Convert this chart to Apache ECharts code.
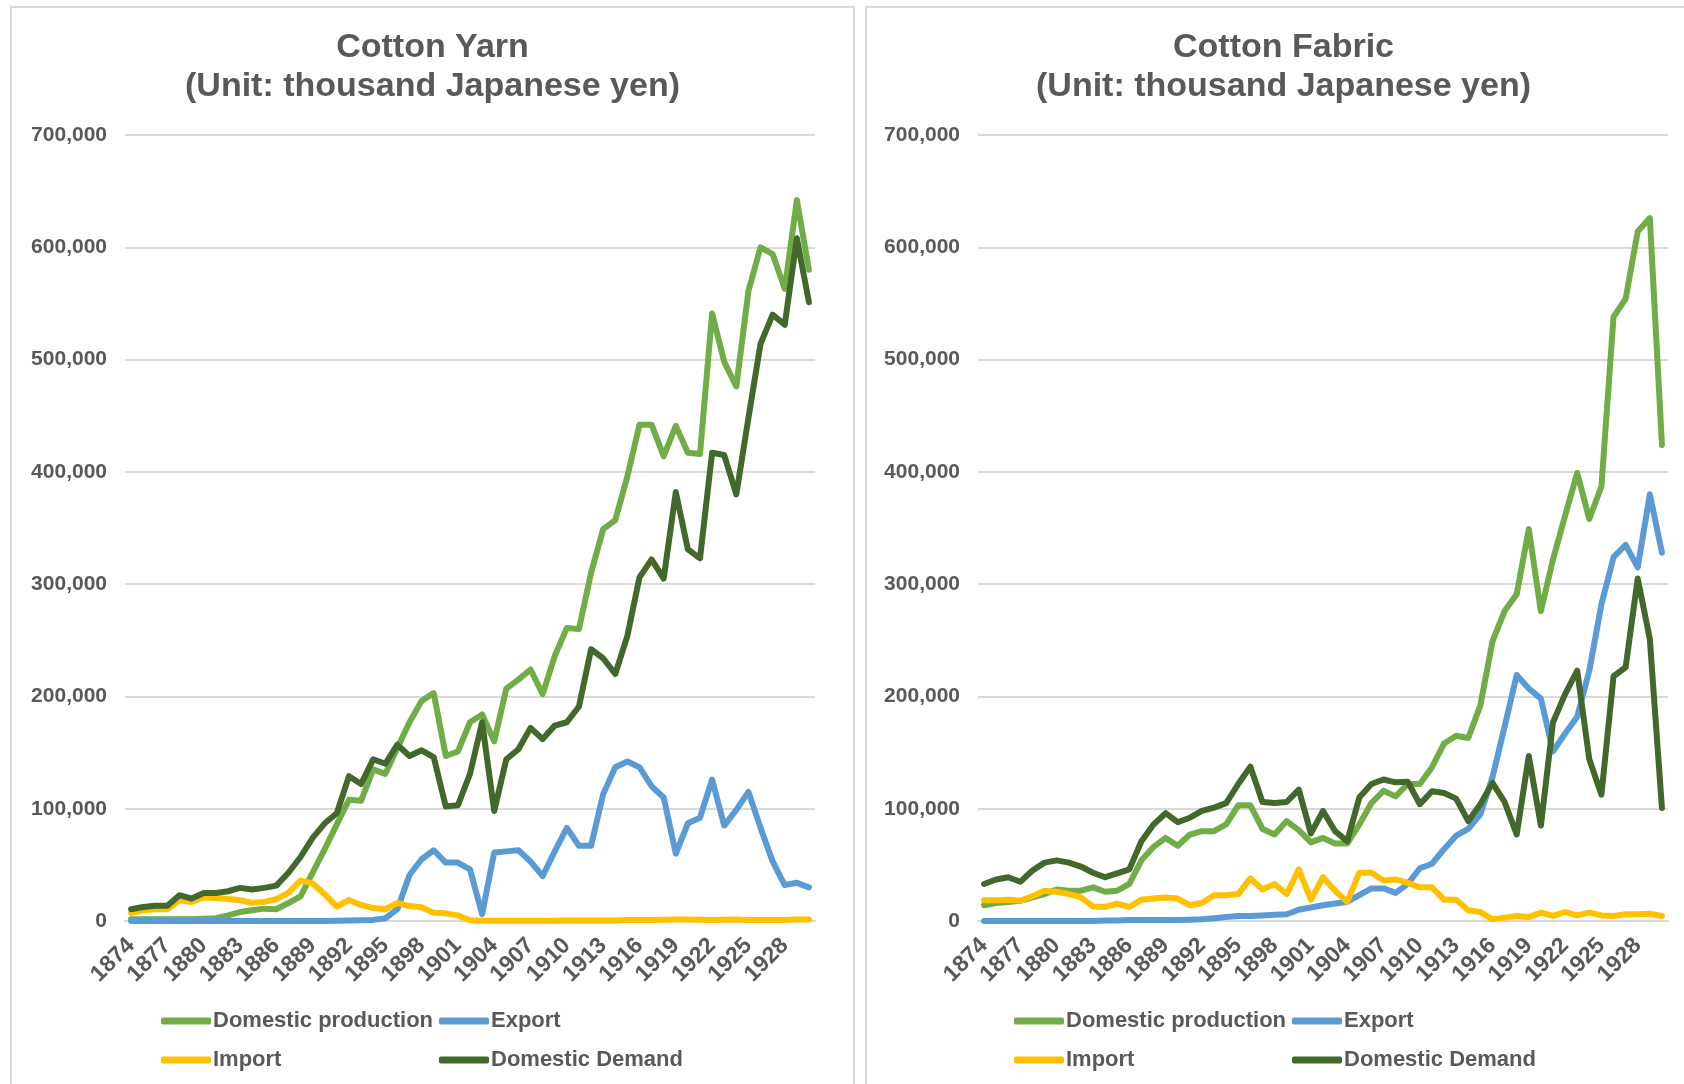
<!DOCTYPE html>
<html>
<head>
<meta charset="utf-8">
<script src="https://cdn.jsdelivr.net/npm/echarts@6/dist/echarts.min.js"></script>
<style>
  html, body { margin: 0; padding: 0; background: #fff; overflow: hidden; width: 1684px; height: 1084px; }
  .panel { position: absolute; top: 6px; height: 1100px; border: 2px solid #d9d9d9; box-sizing: border-box; }
  #yarn { left: 10px; width: 845px; }
  #fabric { left: 865px; width: 837px; }
</style>
</head>
<body>
<div id="yarn" class="panel"></div>
<div id="fabric" class="panel"></div>
<script>
const years = [
  1874, 1875, 1876, 1877, 1878, 1879, 1880, 1881, 1882, 1883, 1884, 1885, 1886, 1887, 1888, 1889, 1890, 1891, 1892,
  1893, 1894, 1895, 1896, 1897, 1898, 1899, 1900, 1901, 1902, 1903, 1904, 1905, 1906, 1907, 1908, 1909, 1910, 1911,
  1912, 1913, 1914, 1915, 1916, 1917, 1918, 1919, 1920, 1921, 1922, 1923, 1924, 1925, 1926, 1927, 1928, 1929, 1930,
];

const seriesNames = ["Domestic production", "Export", "Import", "Domestic Demand"];

// Cotton Yarn (thousand yen)
const yarnProduction = [
  1500, 1500, 1500, 1500, 1500, 1500, 2000, 2500, 5000, 8000, 9500, 11000, 10500, 16000, 22000, 43000, 64000, 86000,
  108000, 107000, 135000, 131000, 154000, 177000, 196000, 203000, 147000, 151000, 177000, 184000, 160000, 207000,
  215000, 224000, 202000, 236000, 261000, 260000, 310000, 349000, 357000, 396000, 442000, 442000, 414000, 441000,
  417000, 416000, 541000, 498000, 476000, 561000, 600000, 594000, 563000, 642000, 580000,
];
const yarnExport = [
  0, 0, 0, 0, 0, 0, 0, 0, 0, 0, 0, 0, 0, 0, 0, 0, 0, 300, 500, 700, 1000, 2400, 10500, 41000, 55000, 63000, 52000,
  52000, 46000, 6000, 61000, 62000, 63000, 53000, 40000, 62000, 83000, 67000, 67000, 113000, 137000, 142000, 137000,
  120000, 110000, 60000, 87000, 92000, 126000, 85000, 99000, 115000, 83000, 53000, 32000, 34000, 30000,
];
const yarnImport = [
  7000, 9500, 10500, 10500, 18500, 17000, 21000, 20500, 19500, 18500, 16300, 17000, 19500, 25000, 36000, 33500, 23800,
  12800, 18700, 14300, 11500, 10500, 16000, 13300, 12200, 7400, 6800, 5000, 700, 300, 300, 300, 300, 300, 300, 300,
  500, 500, 500, 500, 500, 1000, 1000, 1000, 1200, 1400, 1400, 1200, 1000, 1200, 1300, 1000, 1000, 1000, 1000, 1300,
  1400,
];
const yarnDemand = [
  10500, 12500, 13500, 13500, 23000, 20000, 25000, 25000, 26500, 29500, 28000, 29500, 31500, 43000, 57000, 74000,
  87000, 96000, 129000, 122000, 144000, 140000, 157000, 147000, 152000, 146000, 102000, 103000, 131000, 177000, 98000,
  144000, 153000, 172000, 162000, 174000, 177000, 191000, 242000, 234000, 220000, 254000, 306000, 322000, 305000,
  382000, 331000, 323000, 417000, 415000, 380000, 448000, 514000, 540000, 531000, 608000, 551000,
];

// Cotton Fabric (thousand yen)
const fabricProduction = [
  14000, 16000, 17000, 18000, 21000, 24000, 28000, 27000, 27000, 30000, 26000, 27000, 33000, 54000, 66000, 74000,
  67000, 77000, 80000, 80000, 86000, 103000, 103000, 82000, 77000, 89000, 81000, 70000, 74000, 69000, 69000, 86000,
  105000, 116000, 111000, 122000, 122000, 137000, 158000, 165000, 163000, 192000, 249000, 276000, 291000, 349000,
  276000, 322000, 361000, 399000, 358000, 387000, 538000, 554000, 614000, 626000, 424000,
];
const fabricExport = [
  0, 0, 0, 0, 0, 0, 0, 0, 0, 0, 500, 500, 800, 1000, 1000, 1000, 1000, 1200, 1500, 2500, 3500, 4500, 4500, 5000, 5500,
  6000, 10000, 12000, 14000, 15500, 17000, 23000, 29000, 29000, 25000, 33000, 47000, 51000, 64000, 76000, 82000, 95000,
  128000, 173000, 219000, 207000, 198000, 151000, 167000, 182000, 223000, 282000, 324000, 335000, 315000, 380000,
  328000,
];
const fabricImport = [
  18500, 18500, 19000, 18000, 22000, 27000, 26000, 24000, 21000, 13000, 12500, 15500, 12500, 19000, 20000, 21000,
  20000, 14000, 16000, 23000, 23000, 24000, 38000, 28000, 33000, 24000, 46000, 19000, 39000, 27000, 17000, 43000,
  43000, 36000, 37000, 34000, 30000, 30000, 19000, 19000, 9500, 8000, 1500, 3000, 4500, 3500, 7400, 4500, 8000, 5000,
  7400, 5000, 4500, 6000, 6000, 6500, 4500,
];
const fabricDemand = [
  33000, 37000, 39000, 35000, 45000, 52000, 54000, 52000, 48500, 43000, 39000, 42500, 46000, 71000, 86000, 96000,
  88000, 92000, 98000, 101000, 105000, 122000, 137500, 106000, 105000, 106000, 117000, 78000, 98000, 80000, 71000,
  110000, 122000, 126000, 123500, 124000, 104000, 115500, 114000, 109000, 89000, 104000, 123000, 106000, 77000,
  147000, 85000, 177000, 202000, 223000, 144000, 112500, 218000, 226000, 305000, 251000, 100600,
];

const colors = ["#70ad47", "#5b9bd5", "#ffc000", "#43682b"];
const textColor = "#595959";
const font = "Liberation Sans, Arial, sans-serif";

function buildChart(el, title, values, gridLeft) {
  const chart = echarts.init(el);
  // legend: two rows, two aligned columns
  const legendPos = [
    { left: gridLeft + 36, top: 1002 },
    { left: gridLeft + 314, top: 1002 },
    { left: gridLeft + 36, top: 1041 },
    { left: gridLeft + 314, top: 1041 },
  ];
  chart.setOption({
    animation: false,
    textStyle: { fontFamily: font },
    title: {
      text: title,
      left: "center",
      top: 15,
      textStyle: { color: textColor, fontSize: 34, fontWeight: "bold", lineHeight: 39, fontFamily: font },
    },
    legend: seriesNames.map((name, i) => ({
      data: [name],
      left: legendPos[i].left,
      top: legendPos[i].top,
      padding: 0,
      icon: "roundRect",
      itemWidth: 50,
      itemHeight: 7,
      itemGap: 0,
      textStyle: { color: textColor, fontSize: 22, fontWeight: "bold", fontFamily: font, padding: [0, 0, 0, -3] },
    })),
    grid: { left: gridLeft, top: 127, width: 690, height: 786 },
    xAxis: {
      type: "category",
      data: years,
      boundaryGap: true,
      axisLine: { lineStyle: { color: "#d9d9d9", width: 2 } },
      axisTick: { show: false },
      axisLabel: {
        interval: 2,
        rotate: 45,
        margin: 21,
        color: textColor,
        fontSize: 23,
        fontWeight: "bold",
        fontFamily: font,
      },
    },
    yAxis: {
      type: "value",
      min: 0,
      max: 700000,
      interval: 100000,
      axisLine: { show: false },
      axisTick: { show: false },
      splitLine: { lineStyle: { color: "#d9d9d9", width: 2 } },
      axisLabel: {
        margin: 18,
        color: textColor,
        fontSize: 21,
        fontWeight: "bold",
        fontFamily: font,
        formatter: (v) => v.toLocaleString("en-US"),
      },
    },
    series: seriesNames.map((name, i) => ({
      name,
      type: "line",
      data: values[i],
      symbol: "none",
      itemStyle: { color: colors[i] },
      lineStyle: { color: colors[i], width: 6, cap: "round", join: "round" },
    })),
  });
  return chart;
}

const yarnChart = buildChart(
  document.getElementById("yarn"),
  "Cotton Yarn\n(Unit: thousand Japanese yen)",
  [yarnProduction, yarnExport, yarnImport, yarnDemand],
  113,
);
const fabricChart = buildChart(
  document.getElementById("fabric"),
  "Cotton Fabric\n(Unit: thousand Japanese yen)",
  [fabricProduction, fabricExport, fabricImport, fabricDemand],
  111,
);

window.addEventListener("resize", () => {
  yarnChart.resize();
  fabricChart.resize();
});
</script>
</body>
</html>
